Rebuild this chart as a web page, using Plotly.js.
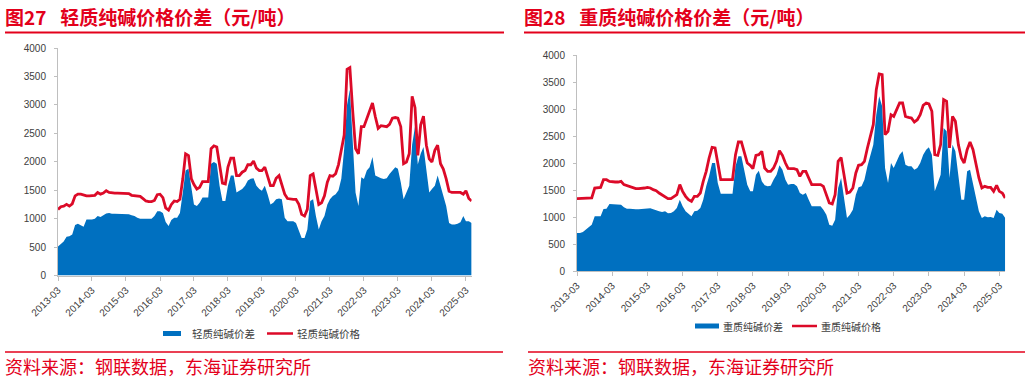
<!DOCTYPE html>
<html>
<head>
<meta charset="utf-8">
<script src="https://cdn.plot.ly/plotly-3.0.1.min.js"></script>
<style>
html,body{margin:0;padding:0;background:#fff;}
#chart{width:1032px;height:381px;}
</style>
</head>
<body>
<div id="chart"></div>
<script>
// ---- data (monthly, 2013-03 .. 2025-05) ----
const startMonth = '2013-03';
const nMonths = 147;

const lightPrice = [
 1160,1210,1220,1250,1220,1260,1400,1430,1430,1410,1400,1400,
 1410,1410,1460,1430,1450,1490,1460,1450,1450,1450,1450,1450,
 1450,1440,1410,1400,1390,1390,1350,1310,1300,1300,1320,1420,
 1430,1370,1190,1150,1250,1310,1300,1340,1700,2140,2110,1700,
 1600,1520,1550,1650,1650,1650,2230,2280,2260,1935,1625,1610,
 1905,2065,2065,1757,1757,1816,1845,1947,1947,2012,1887,1845,
 1845,1905,1757,1580,1580,1710,1757,1610,1430,1353,1340,1340,
 1340,1250,1075,1045,1163,1757,1786,1550,1250,1280,1400,1640,
 1757,1745,1790,1950,2230,2470,3626,3656,2884,2230,2140,2617,
 2617,2766,2884,3033,2795,2588,2635,2629,2617,2659,2766,2777,
 2766,2617,1965,1995,2140,3150,2950,2110,2650,2800,2290,2050,
 1995,2200,2290,1965,1870,1700,1480,1460,1460,1460,1460,1430,
 1490,1353,1310
];
const lightSpread = [
 510,560,600,680,690,720,890,910,880,855,985,985,
 985,1000,1045,1030,1060,1090,1100,1085,1085,1085,1085,1085,
 1085,1075,1060,1045,1015,1000,1000,1000,1000,1000,1045,1130,
 1130,1100,940,870,975,1015,1015,1100,1460,1845,1875,1580,
 1250,1220,1280,1370,1370,1370,1965,1995,1965,1580,1310,1310,
 1580,1757,1757,1460,1490,1520,1580,1670,1700,1710,1580,1520,
 1490,1580,1430,1250,1280,1340,1353,1340,1015,955,955,955,
 925,807,660,660,807,1310,1340,1045,807,955,1045,1250,
 1340,1400,1430,1500,1700,2230,3003,3270,2410,1460,1223,1727,
 1697,1845,1905,2083,1757,1727,1710,1697,1710,1786,1845,1905,
 1875,1640,1340,1460,1580,2300,2620,1950,2140,2260,1816,1460,
 1520,1580,1757,1580,1400,1223,925,896,896,908,938,1045,
 955,955,925
];
const densePrice = [
 1340,1340,1340,1340,1340,1352,1537,1537,1549,1691,1691,1660,
 1648,1648,1648,1660,1599,1580,1549,1537,1525,1525,1525,1537,
 1549,1537,1506,1488,1444,1414,1383,1340,1340,1383,1414,1600,
 1475,1383,1321,1290,1383,1383,1444,1660,1846,2093,2290,2278,
 1969,1691,1691,1691,1691,1691,2154,2389,2389,2216,2000,1957,
 1895,2142,2154,2216,1907,1846,1846,1907,2031,2228,2142,2000,
 1900,1895,1895,1877,1753,1846,1846,1722,1599,1599,1599,1599,
 1568,1414,1259,1241,1414,2031,2100,1784,1444,1463,1537,1815,
 1957,1969,2031,2278,2494,2710,3358,3648,3636,2525,2586,2895,
 2864,2988,3111,3111,2864,2846,2833,2759,2802,2895,3068,3111,
 3093,2957,2154,2142,2340,3173,3142,2278,2864,2772,2340,2093,
 2000,2247,2389,2247,2000,1722,1537,1568,1549,1549,1475,1586,
 1475,1444,1352
];
const denseSpread = [
 704,704,722,765,809,858,1012,1012,1012,1148,1154,1241,
 1241,1241,1241,1228,1179,1154,1154,1142,1142,1142,1148,1154,
 1160,1160,1142,1117,1105,1093,1105,1068,1074,1105,1167,1321,
 1198,1105,1062,1012,1105,1117,1167,1321,1568,1753,2000,2000,
 1630,1432,1432,1432,1432,1432,1938,2123,2123,1877,1599,1475,
 1475,1784,1858,1660,1586,1568,1580,1691,1784,1957,1877,1691,
 1599,1611,1611,1568,1444,1414,1444,1321,1198,1198,1198,1198,
 1136,1043,858,840,951,1537,1722,1383,981,1043,1136,1414,
 1549,1568,1691,1938,2154,2340,2895,3235,3049,1907,1630,2000,
 1907,2031,2154,2216,1969,1938,1938,1877,1907,2000,2154,2247,
 2290,2154,1475,1630,1784,2648,2586,1722,2340,2216,1784,1321,
 1321,1846,1877,1630,1414,1105,981,1012,994,1000,981,1136,
 1074,1062,981
];

const titleLeft = '图27\u2002 轻质纯碱价格价差（元/吨）';
const titleRight = '图28\u2002 重质纯碱价格价差（元/吨）';
const sourceText = '资料来源：钢联数据，东海证券研究所';
const legLeft = ['轻质纯碱价差','轻质纯碱价格'];
const legRight = ['重质纯碱价差','重质纯碱价格'];
const yTicks = [0,500,1000,1500,2000,2500,3000,3500,4000];

// month categories
const months = [];
{
  let y = +startMonth.slice(0,4), m = +startMonth.slice(5,7);
  for (let i=0;i<nMonths;i++){
    months.push(y + '-' + String(m).padStart(2,'0') + '-01');
    m++; if (m>12){m=1;y++;}
  }
}

// ---- layout helpers (pixels) ----
const W=1032, H=381;
const px = v => v/W;
const py = v => 1 - v/H;
const RED = '#e3001b';
const LINE_RED = '#dc0a28';
const BLUE = '#0070c0';
const FONT = 'Liberation Sans, Arial, Noto Sans CJK SC, sans-serif';
const CJK = 'Noto Sans CJK SC, sans-serif';

const traces = [
  {x:months, y:lightSpread, type:'scatter', mode:'lines', fill:'tozeroy',
   fillcolor:BLUE, line:{width:0, color:BLUE}, xaxis:'x', yaxis:'y', name:legLeft[0]},
  {x:months, y:lightPrice, type:'scatter', mode:'lines',
   line:{width:2.8, color:LINE_RED}, xaxis:'x', yaxis:'y', name:legLeft[1]},
  {x:months, y:denseSpread, type:'scatter', mode:'lines', fill:'tozeroy',
   fillcolor:BLUE, line:{width:0, color:BLUE}, xaxis:'x2', yaxis:'y2', name:legRight[0]},
  {x:months, y:densePrice, type:'scatter', mode:'lines',
   line:{width:2.8, color:LINE_RED}, xaxis:'x2', yaxis:'y2', name:legRight[1]}
];

const xCommon = {
  type:'date', range:[months[0], months[months.length-1]],
  tick0:months[0], dtick:'M12', tickformat:'%Y-%m', tickangle:-45,
  ticks:'outside', ticklen:4, tickcolor:'#bfbfbf', showline:true, linecolor:'#bfbfbf',
  linewidth:1, showgrid:false, zeroline:false, fixedrange:true,
  tickfont:{size:10, color:'#404040', family:FONT}
};
const yCommon = {
  range:[0,4000], tickvals:yTicks, ticks:'outside', ticklen:3, tickcolor:'#bfbfbf',
  showline:true, linecolor:'#bfbfbf', linewidth:1, showgrid:false, zeroline:false,
  fixedrange:true, ticklabelstandoff:6,
  tickfont:{size:10, color:'#404040', family:FONT}
};

const layout = {
  width:W, height:H, margin:{l:0,r:0,t:0,b:0},
  paper_bgcolor:'#fff', plot_bgcolor:'#fff', showlegend:false,
  font:{family:FONT},
  xaxis:Object.assign({}, xCommon, {domain:[px(58), px(471.6)], anchor:'y'}),
  yaxis:Object.assign({}, yCommon, {domain:[py(275.5), py(48)], anchor:'x'}),
  xaxis2:Object.assign({}, xCommon, {domain:[px(577), px(1005.2)], anchor:'y2'}),
  yaxis2:Object.assign({}, yCommon, {domain:[py(271), py(55)], anchor:'x2'}),
  shapes:[
    // title underlines
    {type:'line', xref:'paper', yref:'paper', x0:px(5), x1:px(504), y0:py(32.5), y1:py(32.5), line:{color:RED, width:2}},
    {type:'line', xref:'paper', yref:'paper', x0:px(524), x1:px(1025), y0:py(32.5), y1:py(32.5), line:{color:RED, width:2}},
    // source lines
    {type:'line', xref:'paper', yref:'paper', x0:px(5), x1:px(503), y0:py(352), y1:py(352), line:{color:RED, width:1.5}},
    {type:'line', xref:'paper', yref:'paper', x0:px(528), x1:px(1025), y0:py(352), y1:py(352), line:{color:RED, width:1.5}},
    // legend swatches left
    {type:'rect', xref:'paper', yref:'paper', x0:px(163), x1:px(181), y0:py(336), y1:py(331), fillcolor:BLUE, line:{width:0}},
    {type:'line', xref:'paper', yref:'paper', x0:px(267), x1:px(293), y0:py(333.5), y1:py(333.5), line:{color:LINE_RED, width:2.5}},
    // legend swatches right
    {type:'rect', xref:'paper', yref:'paper', x0:px(695), x1:px(719), y0:py(328.5), y1:py(323.5), fillcolor:BLUE, line:{width:0}},
    {type:'line', xref:'paper', yref:'paper', x0:px(792), x1:px(817), y0:py(326), y1:py(326), line:{color:LINE_RED, width:2.5}}
  ],
  annotations:[
    {text:'<b>'+titleLeft+'</b>', xref:'paper', yref:'paper', x:px(3), y:py(16), xanchor:'left', yanchor:'middle', showarrow:false, font:{family:CJK, size:19, color:RED}},
    {text:'<b>'+titleRight+'</b>', xref:'paper', yref:'paper', x:px(522), y:py(16), xanchor:'left', yanchor:'middle', showarrow:false, font:{family:CJK, size:19, color:RED}},
    {text:sourceText, xref:'paper', yref:'paper', x:px(3), y:py(366), xanchor:'left', yanchor:'middle', showarrow:false, font:{family:CJK, size:18, color:RED}},
    {text:sourceText, xref:'paper', yref:'paper', x:px(526), y:py(366), xanchor:'left', yanchor:'middle', showarrow:false, font:{family:CJK, size:18, color:RED}},
    {text:legLeft[0], xref:'paper', yref:'paper', x:px(190), y:py(333.5), xanchor:'left', yanchor:'middle', showarrow:false, font:{family:CJK, size:10.5, color:'#404040'}},
    {text:legLeft[1], xref:'paper', yref:'paper', x:px(295), y:py(333.5), xanchor:'left', yanchor:'middle', showarrow:false, font:{family:CJK, size:10.5, color:'#404040'}},
    {text:legRight[0], xref:'paper', yref:'paper', x:px(721), y:py(326), xanchor:'left', yanchor:'middle', showarrow:false, font:{family:CJK, size:10, color:'#404040'}},
    {text:legRight[1], xref:'paper', yref:'paper', x:px(819), y:py(326), xanchor:'left', yanchor:'middle', showarrow:false, font:{family:CJK, size:10, color:'#404040'}}
  ]
};

Plotly.newPlot('chart', traces, layout, {staticPlot:true, displayModeBar:false});
</script>
</body>
</html>
